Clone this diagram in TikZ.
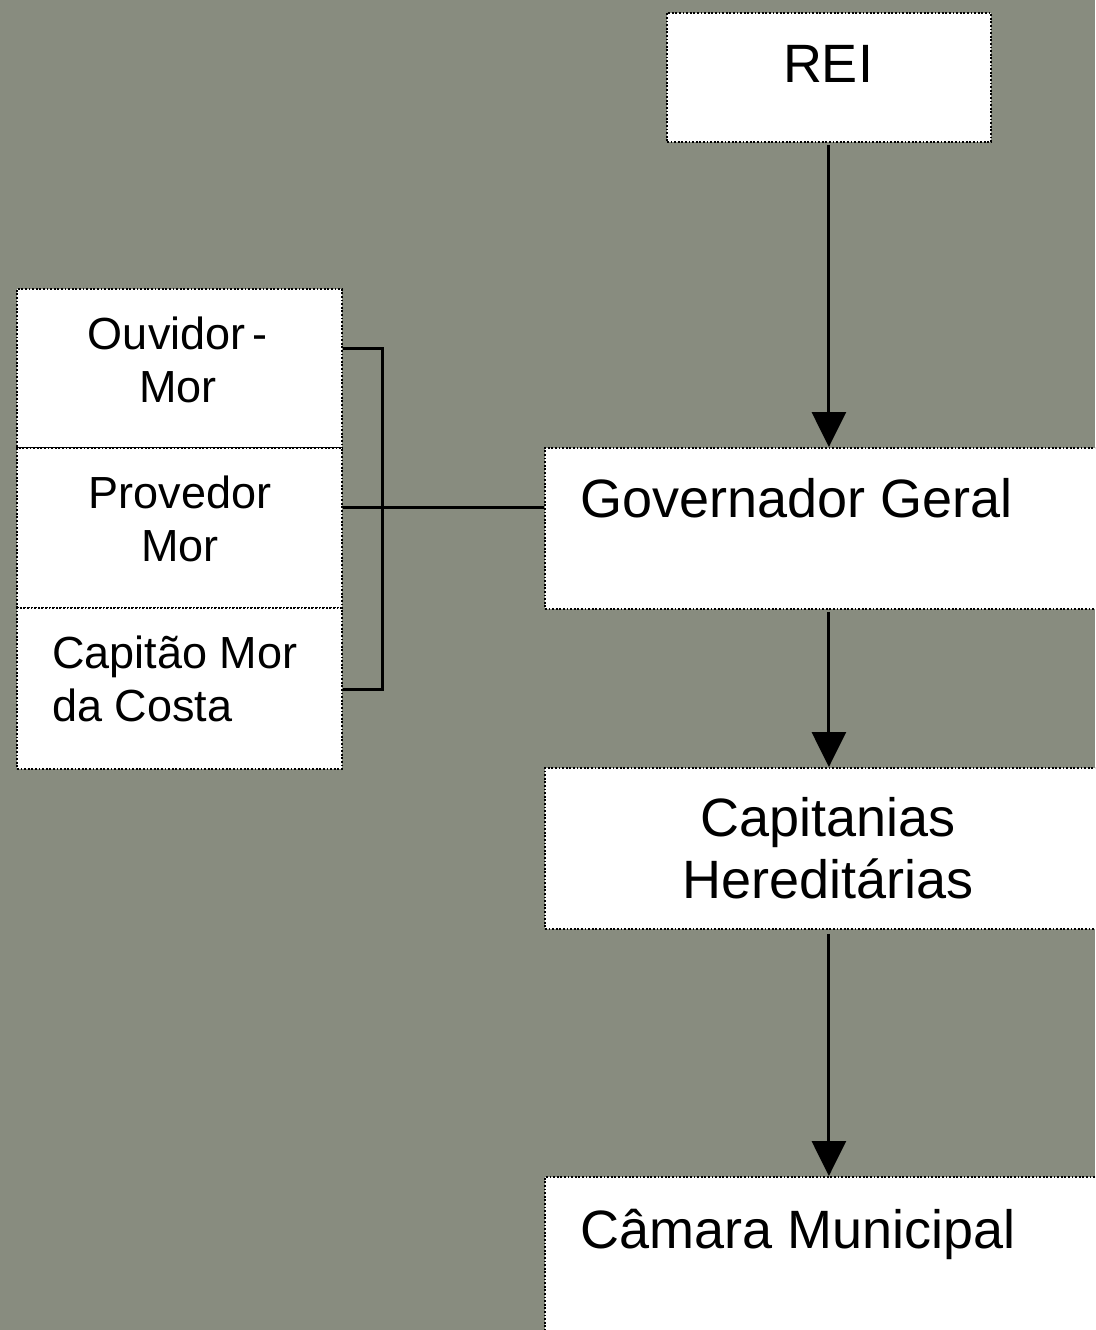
\documentclass[tikz,border=0pt]{standalone}
\usepackage{fontspec}
\setmainfont{Liberation Sans}
\usetikzlibrary{arrows.meta,calc}
\definecolor{bgc}{RGB}{136,140,127}
\begin{document}
\begin{tikzpicture}[x=1pt,y=-1pt,
  box/.style={draw=black, fill=white, line width=1.8pt, dash pattern=on 1.8pt off 1.8pt, inner sep=0pt, anchor=north west},
  big/.style={font=\fontsize{54}{62}\selectfont, inner sep=0pt, align=center},
  small/.style={font=\fontsize{45}{53}\selectfont, inner sep=0pt},
  arr/.style={line width=3pt, -{Triangle[width=34pt,length=35pt]}},
  con/.style={line width=3pt}]
\useasboundingbox (0,0) rectangle (1095,1330);
\clip (0,0) rectangle (1095,1330);
\fill[bgc] (0,0) rectangle (1095,1330);
% main column
\node[box, minimum width=324pt, minimum height=129pt] (rei) at (666,12) {};
\node[box, minimum width=568pt, minimum height=161pt] (gov) at (544,447) {};
\node[box, minimum width=568pt, minimum height=161pt] (cap) at (544,767) {};
\node[box, minimum width=568pt, minimum height=170pt] (cam) at (544,1176) {};
\node[big, anchor=base] (reit) at (828,82) {REI};
\node[big, anchor=base west] (govt) at (580,517) {Governador Geral};
\node[big, anchor=base] (capt) at (828,898) {Capitanias\\Hereditárias};
\node[big, anchor=base west] (camt) at (580,1248) {Câmara Municipal};
% left column
\node[box, minimum width=325pt, minimum height=159pt] (ouv) at (16,288) {};
\node[box, minimum width=325pt, minimum height=160pt] (prov) at (16,447) {};
\node[box, minimum width=325pt, minimum height=161pt] (capm) at (16,607) {};
\node[small, anchor=base, align=center] (ouvt) at (178,402) {Ouvidor\,-\\Mor};
\node[small, anchor=base, align=center] (provt) at (180,561) {Provedor\\Mor};
\node[small, anchor=base west, align=left] (capmt) at (52,721) {Capitão Mor\\da Costa};
% connectors
\draw[arr] ([yshift=-2pt]rei.south) -- (gov.north);
\draw[arr] ([yshift=-2pt]gov.south) -- (cap.north);
\draw[arr] ([yshift=-4pt]cap.south) -- (cam.north);
\coordinate (bx) at (382,0);
\coordinate (btop) at ([yshift=19.5pt]ouv.east);
\coordinate (bbot) at ([yshift=-1.5pt]capm.east);
\draw[con] (btop) -| (bx |- bbot) -- (bbot);
\draw[con] ([yshift=20pt]prov.east) -- ([yshift=20pt]prov.east -| gov.west);
\end{tikzpicture}
\end{document}
